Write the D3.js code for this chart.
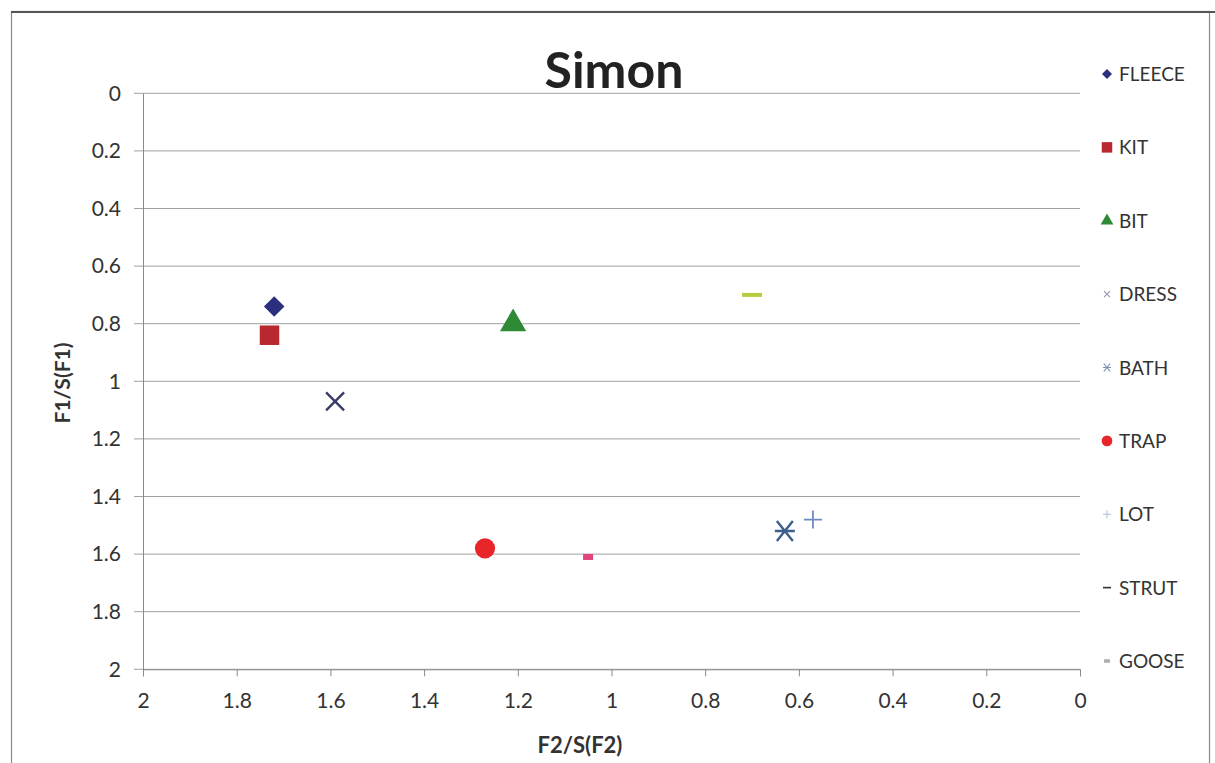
<!DOCTYPE html>
<html>
<head>
<meta charset="utf-8">
<script src="https://cdn.jsdelivr.net/npm/d3@7"></script>
<style>
  html, body { margin: 0; padding: 0; background: #fff; }
  svg { display: block; }
  text { font-family: Lato, "Open Sans", "DejaVu Sans", sans-serif; }
</style>
</head>
<body>
<svg id="chart" width="1215" height="763"></svg>
<script>
// ---- data ----
const series = ["FLEECE", "KIT", "BIT", "DRESS", "BATH", "TRAP", "LOT", "STRUT", "GOOSE"];
const f2Values = [1.72, 1.73, 1.21, 1.59, 0.63, 1.27, 0.57, 0.70, 1.05];
const f1Values = [0.74, 0.84, 0.80, 1.07, 1.52, 1.58, 1.48, 0.70, 1.61];
const xTicks = [2, 1.8, 1.6, 1.4, 1.2, 1, 0.8, 0.6, 0.4, 0.2, 0];
const yTicks = [0, 0.2, 0.4, 0.6, 0.8, 1, 1.2, 1.4, 1.6, 1.8, 2];
const titleText = "Simon";
const xTitle = "F2/S(F2)";
const yTitle = "F1/S(F1)";

// ---- styles ----
const styles = {
  FLEECE: { shape: "diamond", color: "#2c2f7e", size: 210, lsize: 50 },
  KIT:    { shape: "square",  color: "#b8282e", size: 380, lsize: 110 },
  BIT:    { shape: "triangle",color: "#2f8a36", size: 300, lsize: 70 },
  DRESS:  { shape: "x",       color: "#3a3a6a", size: 9,   lsize: 3, lcolor: "#9a9ab8" },
  BATH:   { shape: "star",    color: "#3c5f8e", size: 10,  lsize: 4, lcolor: "#7f8fb0" },
  TRAP:   { shape: "circle",  color: "#e8262a", size: 320, lsize: 90 },
  LOT:    { shape: "plus",    color: "#6c8cc0", size: 9,   lsize: 4, lcolor: "#b0bcd4" },
  STRUT:  { shape: "dash",    color: "#b7cc3e", size: 10,  lsize: 4, lcolor: "#333333" },
  GOOSE:  { shape: "smallsq", color: "#e0457e", size: 5,   lsize: 3, lcolor: "#b0b0b0" }
};

const svg = d3.select("#chart");
const margin = { left: 143, right: 1080, top: 93.3, bottom: 669.3 };

const x = d3.scaleLinear().domain([2, 0]).range([margin.left, margin.right]);
const y = d3.scaleLinear().domain([0, 2]).range([margin.top, margin.bottom]);

// outer frame
svg.append("rect").attr("x", 11.5).attr("y", 11.5).attr("width", 1198).attr("height", 800)
  .attr("fill", "none").attr("stroke", "#8a8a8a").attr("stroke-width", 1.2);
svg.append("line").attr("x1", 11).attr("x2", 1215).attr("y1", 12).attr("y2", 12)
  .attr("stroke", "#555").attr("stroke-width", 2);

// gridlines
svg.append("g").selectAll("line").data(yTicks).join("line")
  .attr("x1", margin.left - 9).attr("x2", margin.right)
  .attr("y1", d => y(d)).attr("y2", d => y(d))
  .attr("stroke", "#a0a0a0").attr("stroke-width", 1);

// y axis (left)
const yAxis = d3.axisLeft(y).tickValues(yTicks).tickSize(0).tickPadding(22)
  .tickFormat(d3.format(""));
const gy = svg.append("g").attr("transform", `translate(${margin.left},0)`).call(yAxis);
gy.select(".domain").attr("stroke", "#8a8a8a");
gy.selectAll("text").attr("font-size", 21).attr("fill", "#333")
  .attr("font-family", "Lato, sans-serif");

// x axis (bottom, reversed)
const xAxis = d3.axisBottom(x).tickValues(xTicks).tickSize(7).tickPadding(17)
  .tickFormat(d3.format(""));
const gx = svg.append("g").attr("transform", `translate(0,${margin.bottom})`).call(xAxis);
gx.select(".domain").attr("stroke", "#8a8a8a");
gx.selectAll(".tick line").attr("stroke", "#8a8a8a");
gx.selectAll("text").attr("font-size", 21).attr("fill", "#333")
  .attr("font-family", "Lato, sans-serif");

// titles
svg.append("text").attr("x", 614).attr("y", 88).attr("text-anchor", "middle")
  .attr("font-size", 50).attr("font-weight", "bold").attr("fill", "#222").text(titleText);
svg.append("text").attr("x", 580).attr("y", 753).attr("text-anchor", "middle")
  .attr("font-size", 22).attr("font-weight", "bold").attr("fill", "#333").text(xTitle);
svg.append("text").attr("transform", "translate(70,383) rotate(-90)").attr("text-anchor", "middle")
  .attr("font-size", 21).attr("font-weight", "bold").attr("fill", "#333").text(yTitle);

// marker drawing
function drawMarker(g, st, size, color, legend) {
  const sw = legend ? 1.2 : 2.4;
  switch (st.shape) {
    case "diamond":
      g.append("path").attr("d", d3.symbol(d3.symbolSquare, size)()).attr("fill", color)
        .attr("transform", "rotate(45)");
      break;
    case "square":
      g.append("path").attr("d", d3.symbol(d3.symbolSquare, size)()).attr("fill", color);
      break;
    case "triangle":
      g.append("path").attr("d", d3.symbol(d3.symbolTriangle, size)()).attr("fill", color);
      break;
    case "circle":
      g.append("path").attr("d", d3.symbol(d3.symbolCircle, size)()).attr("fill", color);
      break;
    case "x": {
      const p = d3.path(); p.moveTo(-size, -size); p.lineTo(size, size); p.moveTo(size, -size); p.lineTo(-size, size);
      g.append("path").attr("d", p.toString()).attr("stroke", color).attr("stroke-width", sw).attr("fill", "none");
      break;
    }
    case "star": {
      const p = d3.path(); const a = size * 0.8;
      p.moveTo(-a, -size); p.lineTo(a, size); p.moveTo(a, -size); p.lineTo(-a, size);
      p.moveTo(-size, 0); p.lineTo(size, 0);
      g.append("path").attr("d", p.toString()).attr("stroke", color).attr("stroke-width", sw).attr("fill", "none");
      break;
    }
    case "plus": {
      const p = d3.path(); p.moveTo(-size, 0); p.lineTo(size, 0); p.moveTo(0, -size); p.lineTo(0, size);
      g.append("path").attr("d", p.toString()).attr("stroke", color).attr("stroke-width", legend ? 1 : 1.8).attr("fill", "none");
      break;
    }
    case "dash":
      g.append("rect").attr("x", -size).attr("y", legend ? -0.8 : -2).attr("width", size * 2)
        .attr("height", legend ? 1.6 : 4).attr("fill", color);
      break;
    case "smallsq":
      g.append("rect").attr("x", -size).attr("y", -size * 0.6).attr("width", size * 2)
        .attr("height", size * 1.2).attr("fill", color);
      break;
  }
}

// data points
series.forEach((name, i) => {
  const st = styles[name];
  const g = svg.append("g").attr("transform", `translate(${x(f2Values[i])},${y(f1Values[i])})`);
  drawMarker(g, st, st.size, st.color, false);
});

// legend
const legendY = d3.scalePoint().domain(series).range([74, 661]);
series.forEach(name => {
  const st = styles[name];
  const gy0 = legendY(name);
  const g = svg.append("g").attr("transform", `translate(1107,${gy0})`);
  drawMarker(g, st, st.lsize, st.lcolor || st.color, true);
  svg.append("text").attr("x", 1119).attr("y", gy0 + 7).attr("font-size", 19)
    .attr("fill", "#333").text(name);
});
</script>
</body>
</html>
